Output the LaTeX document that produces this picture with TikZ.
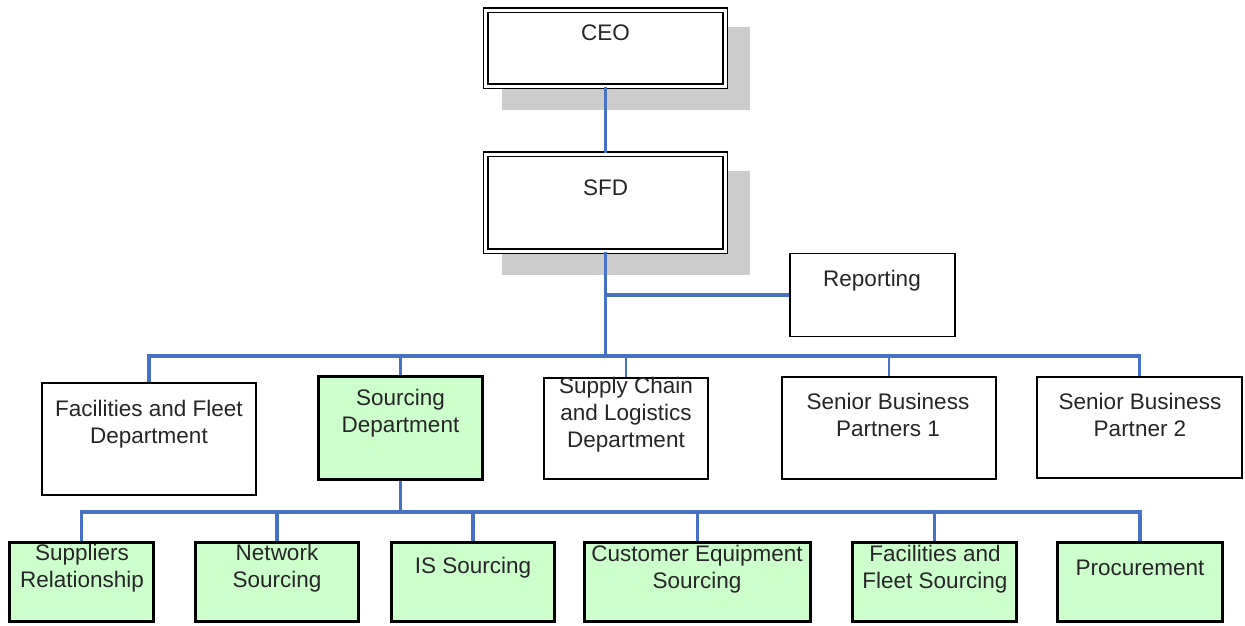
\documentclass[tikz,border=0pt]{standalone}
\usepackage{fontspec}
\setmainfont{Liberation Sans}
\usepackage{tikz}
\usetikzlibrary{positioning}

\definecolor{linkblue}{RGB}{68,114,196}
\definecolor{srcgreen}{RGB}{204,255,204}
\definecolor{shadowgray}{RGB}{204,204,204}
\newcommand\orgfont{\fontsize{22.5}{27}\selectfont}

\tikzset{
  topbox/.style={draw=black, double, line width=1.4pt, double distance=3pt, fill=white, inner sep=0pt},
  orgbox/.style={draw=black, line width=2pt, fill=white, inner sep=0pt},
  repbox/.style={draw=black, line width=1.2pt, fill=white, inner sep=0pt},
  greenbox/.style={draw=black, line width=3pt, fill=srcgreen, inner sep=0pt},
  lbl/.style={align=center, inner sep=0.75pt, font=\orgfont, text=black!85},
  buslink/.style={draw=linkblue, line width=3.5pt},
  midlink/.style={draw=linkblue, line width=2.5pt},
  thinlink/.style={draw=linkblue, line width=1.5pt},
}

\begin{document}
\begin{tikzpicture}[x=1pt,y=1pt,yscale=-1,xscale=1]
\useasboundingbox (0,0) rectangle (1245,625);

% shadows behind the two top boxes
\fill[shadowgray] (502,27) rectangle (750,110);
\fill[shadowgray] (502,171) rectangle (750,275);

% top of the chart
\node[topbox, minimum width=239.5pt, minimum height=76pt] (ceo) at (605.5,48) {};
\node[topbox, minimum width=239.5pt, minimum height=97pt] (sfd) at (605.5,202.5) {};
\node[repbox, minimum width=165pt, minimum height=83pt] (rep) at (872.5,295) {};

\node[lbl] (ceo-t) at (605.5,33) {CEO};
\node[lbl] (sfd-t) at (605.5,188) {SFD};
\node[lbl] (rep-t) at (872,281) {Reporting};

% departments
\node[orgbox, minimum width=214pt, minimum height=112pt] (fac) at (149,439) {};
\node[greenbox, minimum width=164pt, minimum height=103pt] (src) at (400.5,428) {};
\node[orgbox, minimum width=164pt, minimum height=101pt] (sc) at (626,428.5) {};
\node[orgbox, minimum width=214pt, minimum height=102pt] (sbp1) at (889,428) {};
\node[orgbox, minimum width=205pt, minimum height=101pt] (sbp2) at (1139.5,427.5) {};

\node[lbl] (fac-t) at (149,424.5) {Facilities and Fleet\\Department};
\node[lbl] (src-t) at (400.5,413) {Sourcing\\Department};
\node[lbl] (sc-t) at (626,414.5) {Supply Chain\\and Logistics\\Department};
\node[lbl] (sbp1-t) at (888,414.5) {Senior Business\\Partners 1};
\node[lbl] (sbp2-t) at (1140,414.5) {Senior Business\\Partner 2};

% sourcing teams
\node[greenbox, minimum width=144pt, minimum height=79pt] (sup) at (81.5,582) {};
\node[greenbox, minimum width=163pt, minimum height=79pt] (net) at (277,582) {};
\node[greenbox, minimum width=163pt, minimum height=79pt] (is) at (473,582) {};
\node[greenbox, minimum width=226pt, minimum height=79pt] (cust) at (697.5,582) {};
\node[greenbox, minimum width=164pt, minimum height=79pt] (ffs) at (934.5,582) {};
\node[greenbox, minimum width=165pt, minimum height=79pt] (proc) at (1140,582) {};

\node[lbl] (sup-t) at (82,568.5) {Suppliers\\Relationship};
\node[lbl] (net-t) at (277,568.5) {Network\\Sourcing};
\node[lbl] (is-t) at (473,568) {IS Sourcing};
\node[lbl] (cust-t) at (697,569) {Customer Equipment\\Sourcing};
\node[lbl] (ffs-t) at (935,569) {Facilities and\\Fleet Sourcing};
\node[lbl] (proc-t) at (1140,568) {Procurement};

% connectors
\coordinate (hub) at (605.5,356);
\coordinate (hub2) at (400.5,512);

\draw[midlink] (ceo) -- (sfd);
\draw[buslink] (sfd.south) -- (hub);
\draw[buslink] (hub |- rep.west) -- (rep.west);
\draw[buslink] (fac.north) -- (fac.north |- hub) -- (sbp2.north |- hub) -- (sbp2.north);
\draw[buslink] (src.north) -- (src.north |- hub);
\draw[thinlink] (sc.north) -- (sc.north |- hub);
\draw[thinlink] (sbp1.north) -- (sbp1.north |- hub);

\draw[buslink] (src.south) -- (hub2);
\draw[buslink] (sup.north) -- (sup.north |- hub2) -- (proc.north |- hub2) -- (proc.north);
\foreach \t in {net,is,cust,ffs}
  \draw[buslink] (\t.north) -- (\t.north |- hub2);

\end{tikzpicture}
\end{document}
